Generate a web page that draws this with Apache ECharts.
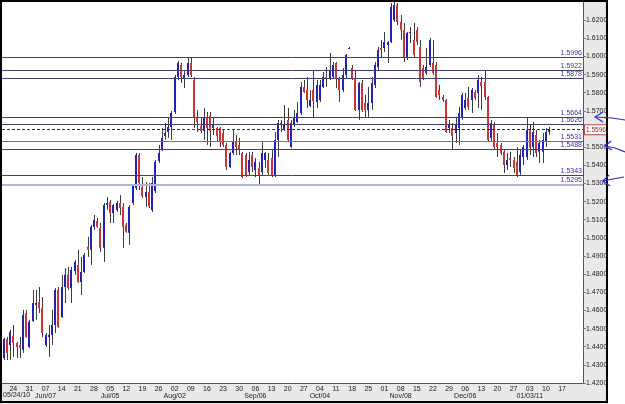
<!DOCTYPE html>
<html>
<head>
<meta charset="utf-8">
<script src="https://cdn.jsdelivr.net/npm/echarts@6/dist/echarts.min.js"></script>
<style>
html, body { margin: 0; padding: 0; background: #fff; }
#chart { width: 625px; height: 404px; }
</style>
</head>
<body>
<div id="chart"></div>
<script>
// daily GBP/USD-like candles, first one is 2010-05-19
const opens = [
  1.4338, 1.4443, 1.4410, 1.4460, 1.4421, 1.4410, 1.4383, 1.4586, 1.4399, 1.4542,
  1.4630, 1.4647, 1.4614, 1.4410, 1.4454, 1.4465, 1.4520, 1.4713, 1.4564, 1.4729,
  1.4796, 1.4724, 1.4818, 1.4851, 1.4757, 1.4812, 1.4951, 1.4934, 1.5061, 1.5093,
  1.5055, 1.4945, 1.5181, 1.5198, 1.5137, 1.5154, 1.5192, 1.5170, 1.5072, 1.5028,
  1.5192, 1.5275, 1.5457, 1.5280, 1.5225, 1.5253, 1.5154, 1.5258, 1.5424, 1.5485,
  1.5562, 1.5584, 1.5611, 1.5694, 1.5887, 1.5953, 1.5881, 1.5898, 1.5964, 1.5870,
  1.5661, 1.5617, 1.5589, 1.5666, 1.5672, 1.5606, 1.5606, 1.5606, 1.5578, 1.5512,
  1.5391, 1.5468, 1.5529, 1.5512, 1.5468, 1.5457, 1.5363, 1.5457, 1.5374, 1.5385,
  1.5363, 1.5429, 1.5429, 1.5440, 1.5347, 1.5540, 1.5622, 1.5595, 1.5650, 1.5501,
  1.5622, 1.5639, 1.5688, 1.5832, 1.5815, 1.5727, 1.5815, 1.5749, 1.5760, 1.5832,
  1.5887, 1.5881, 1.5887, 1.5964, 1.5881, 1.5815, 1.5898, 1.6046, 1.5936, 1.5881,
  1.5705, 1.5854, 1.5743, 1.5705, 1.5743, 1.5843, 1.5942, 1.6047, 1.6047, 1.6063,
  1.6080, 1.6201, 1.6283, 1.6190, 1.6146, 1.5991, 1.6129, 1.6091, 1.6146, 1.6052,
  1.5936, 1.5909, 1.5953, 1.5964, 1.5953, 1.5815, 1.5777, 1.5760, 1.5606, 1.5606,
  1.5578, 1.5606, 1.5666, 1.5716, 1.5771, 1.5760, 1.5804, 1.5799, 1.5859, 1.5859,
  1.5777, 1.5551, 1.5622, 1.5523, 1.5512, 1.5474, 1.5402, 1.5440, 1.5429, 1.5418,
  1.5363, 1.5446, 1.5446, 1.5595, 1.5501, 1.5567, 1.5474, 1.5474, 1.5529, 1.5584
];
const closes = [
  1.4443, 1.4366, 1.4482, 1.4421, 1.4399, 1.4394, 1.4575, 1.4454, 1.4537, 1.4641,
  1.4641, 1.4614, 1.4476, 1.4465, 1.4465, 1.4520, 1.4713, 1.4509, 1.4729, 1.4796,
  1.4724, 1.4823, 1.4867, 1.4757, 1.4812, 1.4906, 1.4934, 1.5061, 1.5099, 1.5061,
  1.4945, 1.5181, 1.5192, 1.5137, 1.5181, 1.5192, 1.5165, 1.5061, 1.5033, 1.5170,
  1.5286, 1.5457, 1.5302, 1.5231, 1.5253, 1.5176, 1.5302, 1.5418, 1.5468, 1.5551,
  1.5578, 1.5611, 1.5688, 1.5887, 1.5964, 1.5887, 1.5898, 1.5964, 1.5898, 1.5661,
  1.5639, 1.5589, 1.5666, 1.5606, 1.5589, 1.5622, 1.5562, 1.5529, 1.5512, 1.5391,
  1.5468, 1.5529, 1.5501, 1.5485, 1.5335, 1.5347, 1.5429, 1.5391, 1.5418, 1.5347,
  1.5468, 1.5468, 1.5358, 1.5347, 1.5540, 1.5633, 1.5633, 1.5622, 1.5540, 1.5633,
  1.5666, 1.5688, 1.5832, 1.5804, 1.5760, 1.5760, 1.5754, 1.5843, 1.5843, 1.5887,
  1.5881, 1.5925, 1.5953, 1.5881, 1.5815, 1.5898, 1.6008, 1.6047, 1.5881, 1.5705,
  1.5854, 1.5705, 1.5705, 1.5743, 1.5854, 1.5953, 1.6036, 1.6036, 1.6080, 1.6080,
  1.6272, 1.6283, 1.6190, 1.6146, 1.5991, 1.6129, 1.6135, 1.6008, 1.6080, 1.5859,
  1.5881, 1.5942, 1.6091, 1.5909, 1.5777, 1.5788, 1.5760, 1.5584, 1.5622, 1.5562,
  1.5622, 1.5688, 1.5788, 1.5760, 1.5721, 1.5815, 1.5771, 1.5870, 1.5837, 1.5777,
  1.5540, 1.5633, 1.5501, 1.5501, 1.5468, 1.5402, 1.5429, 1.5429, 1.5385, 1.5347,
  1.5457, 1.5501, 1.5595, 1.5496, 1.5584, 1.5468, 1.5523, 1.5540, 1.5584, 1.5596
];
const lows = [
  1.4327, 1.4327, 1.4327, 1.4344, 1.4338, 1.4338, 1.4366, 1.4449, 1.4394, 1.4537,
  1.4548, 1.4586, 1.4454, 1.4399, 1.4344, 1.4410, 1.4476, 1.4504, 1.4559, 1.4641,
  1.4713, 1.4641, 1.4796, 1.4752, 1.4685, 1.4807, 1.4895, 1.4851, 1.5044, 1.5055,
  1.4923, 1.4867, 1.5154, 1.5082, 1.5082, 1.5143, 1.5126, 1.4945, 1.5028, 1.4962,
  1.5181, 1.5264, 1.5264, 1.5220, 1.5170, 1.5165, 1.5143, 1.5247, 1.5413, 1.5479,
  1.5540, 1.5551, 1.5540, 1.5683, 1.5870, 1.5854, 1.5826, 1.5887, 1.5887, 1.5606,
  1.5584, 1.5578, 1.5540, 1.5512, 1.5501, 1.5567, 1.5529, 1.5501, 1.5501, 1.5374,
  1.5385, 1.5457, 1.5457, 1.5457, 1.5330, 1.5335, 1.5347, 1.5363, 1.5335, 1.5292,
  1.5347, 1.5385, 1.5347, 1.5335, 1.5335, 1.5446, 1.5584, 1.5589, 1.5534, 1.5496,
  1.5611, 1.5633, 1.5677, 1.5799, 1.5716, 1.5721, 1.5666, 1.5716, 1.5749, 1.5826,
  1.5832, 1.5870, 1.5881, 1.5826, 1.5749, 1.5804, 1.5881, 1.6041, 1.5870, 1.5699,
  1.5650, 1.5694, 1.5661, 1.5661, 1.5705, 1.5826, 1.5925, 1.5997, 1.6025, 1.5964,
  1.6074, 1.6190, 1.6173, 1.6091, 1.5969, 1.5980, 1.6074, 1.5991, 1.6063, 1.5832,
  1.5870, 1.5898, 1.5942, 1.5898, 1.5771, 1.5760, 1.5749, 1.5578, 1.5578, 1.5485,
  1.5523, 1.5512, 1.5650, 1.5705, 1.5705, 1.5688, 1.5760, 1.5716, 1.5705, 1.5760,
  1.5529, 1.5529, 1.5485, 1.5446, 1.5457, 1.5358, 1.5374, 1.5391, 1.5358, 1.5335,
  1.5347, 1.5402, 1.5429, 1.5457, 1.5446, 1.5446, 1.5413, 1.5413, 1.5501, 1.5567
];
const highs = [
  1.4449, 1.4454, 1.4493, 1.4520, 1.4427, 1.4454, 1.4603, 1.4603, 1.4548, 1.4713,
  1.4713, 1.4729, 1.4674, 1.4476, 1.4520, 1.4603, 1.4724, 1.4729, 1.4796, 1.4834,
  1.4840, 1.4840, 1.4878, 1.4934, 1.4895, 1.4917, 1.5006, 1.5072, 1.5126, 1.5110,
  1.5082, 1.5192, 1.5225, 1.5209, 1.5187, 1.5203, 1.5236, 1.5192, 1.5082, 1.5181,
  1.5297, 1.5468, 1.5468, 1.5335, 1.5308, 1.5302, 1.5335, 1.5429, 1.5512, 1.5606,
  1.5633, 1.5661, 1.5699, 1.5898, 1.5975, 1.5964, 1.5925, 1.5997, 1.5997, 1.5887,
  1.5705, 1.5666, 1.5716, 1.5694, 1.5694, 1.5666, 1.5611, 1.5611, 1.5595, 1.5523,
  1.5474, 1.5595, 1.5567, 1.5551, 1.5474, 1.5468, 1.5474, 1.5474, 1.5440, 1.5418,
  1.5529, 1.5474, 1.5468, 1.5485, 1.5584, 1.5650, 1.5650, 1.5732, 1.5716, 1.5650,
  1.5705, 1.5749, 1.5859, 1.5870, 1.5887, 1.5815, 1.5925, 1.5870, 1.5870, 1.5914,
  1.5942, 1.6019, 1.5969, 1.5969, 1.5887, 1.5936, 1.6013, 1.6052, 1.5953, 1.5925,
  1.5859, 1.5870, 1.5788, 1.5832, 1.5887, 1.5969, 1.6052, 1.6091, 1.6135, 1.6085,
  1.6294, 1.6300, 1.6294, 1.6228, 1.6184, 1.6135, 1.6162, 1.6184, 1.6162, 1.6091,
  1.5953, 1.6047, 1.6102, 1.6091, 1.5969, 1.5843, 1.5788, 1.5765, 1.5650, 1.5633,
  1.5666, 1.5721, 1.5799, 1.5799, 1.5832, 1.5826, 1.5815, 1.5898, 1.5887, 1.5925,
  1.5782, 1.5650, 1.5639, 1.5578, 1.5523, 1.5485, 1.5468, 1.5474, 1.5446, 1.5501,
  1.5485, 1.5512, 1.5666, 1.5622, 1.5639, 1.5595, 1.5540, 1.5578, 1.5606, 1.5611
];

// horizontal support / resistance levels and the last price
const levels = [1.5996, 1.5922, 1.5878, 1.5664, 1.5626, 1.5531, 1.5488, 1.5343, 1.5295];
const lastPrice = 1.5596;

// second row of the date axis (the first one is drawn as its own text)
const majorDates = ['2010-06-07', '2010-07-05', '2010-08-02', '2010-09-06',
  '2010-10-04', '2010-11-08', '2010-12-06', '2011-01-03'];
const majorLabels = ['Jun/07', 'Jul/05', 'Aug/02', 'Sep/06',
  'Oct/04', 'Nov/08', 'Dec/06', '01/03/11'];
const firstMajor = '05/24/10';
const lastTickDate = '2011-01-17';

// weekday categories, a few empty days are left on the right
const dates = [];
const d0 = new Date(Date.UTC(2010, 4, 19));
while (dates.length < 180) {
  const wd = d0.getUTCDay();
  if (wd !== 0 && wd !== 6) dates.push(d0.toISOString().slice(0, 10));
  d0.setUTCDate(d0.getUTCDate() + 1);
}
const isMonday = (i, v) => v <= lastTickDate && new Date(v + 'T00:00:00Z').getUTCDay() === 1;

const candles = opens.map((o, i) => [i, o, closes[i], lows[i], highs[i]]);

const FONT = 'Liberation Sans, Arial, sans-serif';
const LINE = '#40406e';

function renderCandle(params, api) {
  const i = api.value(0);
  const o = api.coord([i, api.value(1)]);
  const c = api.coord([i, api.value(2)]);
  const l = api.coord([i, api.value(3)]);
  const h = api.coord([i, api.value(4)]);
  const up = api.value(2) >= api.value(1);
  const x = Math.round(o[0]);
  const top = Math.min(o[1], c[1]);
  const bh = Math.max(Math.abs(o[1] - c[1]), 1);
  return {
    type: 'group',
    children: [
      { type: 'line', shape: { x1: x + 0.5, y1: h[1], x2: x + 0.5, y2: l[1] },
        style: { stroke: '#3c3c3c', lineWidth: 1 } },
      { type: 'rect', shape: { x: x - 1, y: top, width: 2, height: bh },
        style: { fill: up ? '#2222b4' : '#d03434' } }
    ]
  };
}

const levelLines = levels.map((v) => {
  let color = LINE, width = 1;
  if (v === 1.5531) color = '#6c6cae';
  if (v === 1.5295) { color = '#b4b4da'; width = 2; }
  return {
    yAxis: v,
    lineStyle: { color, width, type: 'solid' },
    label: {
      show: true, position: 'insideEndTop', distance: [1, 1],
      formatter: v.toFixed(4), color: '#3838a4', fontSize: 7, fontFamily: FONT
    }
  };
});
levelLines.push({
  yAxis: lastPrice,
  lineStyle: { color: '#333', width: 1, type: [3, 2] },
  label: {
    show: true, position: 'end', distance: 2,
    formatter: lastPrice.toFixed(4), color: '#7a2a2a', fontSize: 6.5, fontFamily: FONT,
    backgroundColor: '#fff', borderColor: '#c24848', borderWidth: 1, padding: [1, 1]
  }
});

const arrow = (pts) => ({
  type: 'polyline', z: 50,
  shape: { points: pts },
  style: { stroke: '#2a2ad4', lineWidth: 1.2, fill: null }
});

const chart = echarts.init(document.getElementById('chart'));
chart.setOption({
  animation: false,
  backgroundColor: '#e9e9e9',
  grid: { left: 2, right: 42, top: 2, bottom: 21, show: true, backgroundColor: '#fff', borderWidth: 0 },
  xAxis: {
    type: 'category',
    data: dates,
    boundaryGap: true,
    axisLine: { lineStyle: { color: '#555' } },
    axisTick: { interval: isMonday, alignWithLabel: true, length: 3, lineStyle: { color: '#777' } },
    axisLabel: {
      interval: isMonday,
      margin: 3,
      formatter: (v) => {
        const k = majorDates.indexOf(v);
        return '{d|' + v.slice(8, 10) + '}\n{m|' + (k >= 0 ? majorLabels[k] : ' ') + '}';
      },
      rich: {
        d: { fontSize: 7, lineHeight: 7, color: '#222', fontFamily: FONT },
        m: { fontSize: 7, lineHeight: 7, color: '#222', fontFamily: FONT }
      }
    },
    splitLine: { show: false }
  },
  yAxis: {
    type: 'value',
    position: 'right',
    min: 1.42,
    max: 1.63,
    interval: 0.01,
    axisLine: { show: true, lineStyle: { color: '#555' } },
    axisTick: { show: true, length: 3, lineStyle: { color: '#777' } },
    axisLabel: {
      fontSize: 7, color: '#222', margin: 3, fontFamily: FONT,
      showMaxLabel: false,
      formatter: (v) => v.toFixed(4)
    },
    splitLine: { show: false }
  },
  series: [
    {
      type: 'custom',
      renderItem: renderCandle,
      data: candles,
      encode: { x: 0, y: [1, 2, 3, 4] },
      z: 3
    },
    {
      type: 'line',
      data: [],
      markLine: { silent: true, symbol: 'none', precision: 4, animation: false, data: levelLines },
      z: 2
    }
  ],
  graphic: [
    { type: 'rect', z: -5, shape: { x: 608, y: 0, width: 17, height: 404 }, style: { fill: '#fff' } },
    { type: 'text', z: 40, left: 3, top: 392,
      style: { text: firstMajor, fontSize: 7, fill: '#222', fontFamily: FONT } },
    { type: 'line', z: 40, shape: { x1: 0, y1: 1, x2: 607, y2: 1 }, style: { stroke: '#000', lineWidth: 2 } },
    { type: 'line', z: 40, shape: { x1: 1, y1: 0, x2: 1, y2: 403 }, style: { stroke: '#000', lineWidth: 2 } },
    { type: 'line', z: 40, shape: { x1: 0, y1: 402, x2: 608, y2: 402 }, style: { stroke: '#000', lineWidth: 2 } },
    { type: 'line', z: 40, shape: { x1: 607, y1: 0, x2: 607, y2: 403 }, style: { stroke: '#000', lineWidth: 2 } },
    arrow([[625, 120], [612, 118], [596, 117]]),
    arrow([[603, 112], [595, 117], [603, 122]]),
    arrow([[625, 152], [615, 148], [605, 146]]),
    arrow([[611, 141], [605, 146], [612, 150]]),
    arrow([[624, 177], [613, 179], [603, 181]]),
    arrow([[609, 175], [603, 181], [610, 186]])
  ]
});
</script>
</body>
</html>
